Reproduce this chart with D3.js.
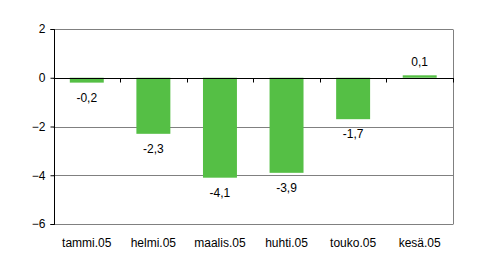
<html>
<script src="https://d3js.org/d3.v7.min.js"></script>
<style>
    body {margin: 0; background: #fff;}
    text {font-family: "Liberation Sans", Arial, sans-serif; font-size: 12px; fill: #000;}
</style>
<body>
<svg width=495 height=266></svg>
<script>
const months = ["tammi.05", "helmi.05", "maalis.05", "huhti.05", "touko.05", "kesä.05"];
const values = [-0.2, -2.3, -4.1, -3.9, -1.7, 0.1];
const yTicks = [2, 0, -2, -4, -6];

const svg = d3.select("svg");
const plotLeft = 53.5, plotRight = 453, plotTop = 29, plotBottom = 224;

const xs = d3.scaleBand().domain(months).range([plotLeft, plotRight]).paddingInner(0.49).paddingOuter(0.245);
const ys = d3.scaleLinear().domain([-6, 2]).range([plotBottom, plotTop]);
const step = xs.step();
const fmt = v => d3.format(".1f")(v).replace(".", ",").replace("−", "-");

// gridlines
svg.append("g")
    .selectAll("line")
    .data(yTicks.filter(d => d !== 0))
    .enter()
    .append("line")
    .attr("x1", plotLeft).attr("x2", plotRight)
    .attr("y1", d => Math.round(ys(d)) + 0.5).attr("y2", d => Math.round(ys(d)) + 0.5)
    .attr("stroke", "#808080");

// right border
svg.append("line")
    .attr("x1", plotRight + 0.5).attr("x2", plotRight + 0.5)
    .attr("y1", Math.round(plotTop) + 0.5).attr("y2", Math.round(plotBottom) + 0.5)
    .attr("stroke", "#808080");

// bars
svg.append("g")
    .selectAll("rect")
    .data(values)
    .enter()
    .append("rect")
    .attr("x", (d, i) => xs(months[i]))
    .attr("width", xs.bandwidth())
    .attr("y", d => ys(Math.max(0, d)))
    .attr("height", d => Math.abs(ys(d) - ys(0)))
    .attr("fill", "#55bf45");

// zero line
const y0 = Math.round(ys(0)) + 0.5;
svg.append("line")
    .attr("x1", plotLeft).attr("x2", plotRight + 1)
    .attr("y1", y0).attr("y2", y0)
    .attr("stroke", "#000");

// category ticks
svg.append("g")
    .selectAll("line")
    .data(d3.range(months.length + 1))
    .enter()
    .append("line")
    .attr("x1", i => Math.round(plotLeft + i * step) + 0.5).attr("x2", i => Math.round(plotLeft + i * step) + 0.5)
    .attr("y1", y0).attr("y2", y0 + 4)
    .attr("stroke", "#000");

// y axis
svg.append("g")
    .attr("transform", "translate(" + (Math.round(plotLeft) + 0.5) + ",0)")
    .call(d3.axisLeft(ys).tickValues(yTicks).tickSize(4).tickPadding(5).tickFormat(d3.format("d")))
    .call(g => g.selectAll("text").style("font-size", "12px").attr("fill", "#000"))
    .call(g => g.selectAll("line,path").attr("stroke", "#000"))
    .call(g => g.select(".domain").attr("d", "M-4," + (Math.round(plotTop) + 0.5) + "H0V" + (Math.round(plotBottom) + 0.5) + "H-4"));

// value labels
svg.append("g")
    .selectAll("text")
    .data(values)
    .enter()
    .append("text")
    .attr("x", (d, i) => xs(months[i]) + xs.bandwidth() / 2)
    .attr("y", d => d < 0 ? ys(d) + 19 : ys(d) - 9)
    .style("text-anchor", "middle")
    .text(d => fmt(d));

// category labels
svg.append("g")
    .selectAll("text")
    .data(months)
    .enter()
    .append("text")
    .attr("x", d => xs(d) + xs.bandwidth() / 2)
    .attr("y", 247)
    .style("text-anchor", "middle")
    .text(d => d);
</script>
</body>
</html>
